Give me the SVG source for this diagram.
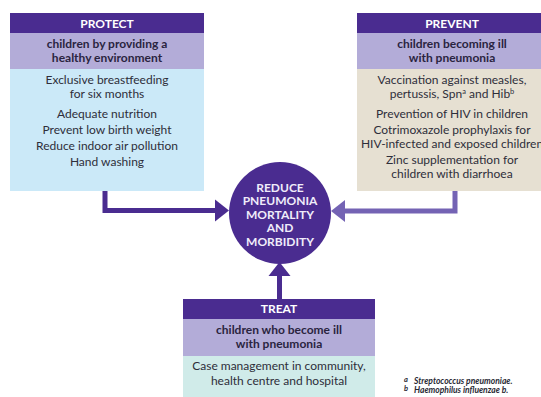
<svg xmlns="http://www.w3.org/2000/svg" width="541" height="397" viewBox="0 0 541 397">
<style>
text{font-family:Lato,"Open Sans","Liberation Sans",sans-serif;text-anchor:middle}
.hd{fill:#4a2c90}
.sub{fill:#b3acd8}
.ht{fill:#ffffff;font-size:12px;font-weight:bold}
.st{fill:#2a2440;font-size:12px;font-weight:bold}
.bt{fill:#2e2e3a;font-size:12px}
.ct{fill:#f0ecfa;font-size:12px;font-weight:bold}
.fn{fill:#2a2a35;font-size:8.5px;font-style:italic;font-weight:bold;text-anchor:start}
.sup{font-size:7.5px}
</style>
<rect width="541" height="397" fill="#ffffff"/>
<g id="connectors">
<path d="M105 191 V210.5 H216" fill="none" stroke="#4a2c90" stroke-width="5"/>
<polygon points="215,199.5 229,210.5 215,221.5" fill="#4a2c90"/>
<path d="M455 191 V211 H344" fill="none" stroke="#7463b4" stroke-width="5"/>
<polygon points="345,200 331,211 345,222" fill="#7463b4"/>
<path d="M279.5 299 V275" fill="none" stroke="#4a2c90" stroke-width="5"/>
<polygon points="268.5,276 279.5,262 290.5,276" fill="#4a2c90"/>
</g>
<g id="protect">
<rect x="10" y="13" width="194" height="20" class="hd"/>
<rect x="10" y="33" width="194" height="36" class="sub"/>
<rect x="10" y="69" width="194" height="122" fill="#cbe9f8"/>
<text x="107" y="27.5" class="ht">PROTECT</text>
<text x="107" y="48" class="st">children by providing a</text>
<text x="107" y="62" class="st">healthy environment</text>
<text x="107" y="84" class="bt">Exclusive breastfeeding</text>
<text x="107" y="98" class="bt">for six months</text>
<text x="107" y="118" class="bt">Adequate nutrition</text>
<text x="107" y="134" class="bt">Prevent low birth weight</text>
<text x="107" y="150" class="bt">Reduce indoor air pollution</text>
<text x="107" y="166" class="bt">Hand washing</text>
</g>
<g id="prevent">
<rect x="357" y="13" width="190" height="20" class="hd"/>
<rect x="357" y="33" width="190" height="36" class="sub"/>
<rect x="357" y="69" width="190" height="122" fill="#e6e0d2"/>
<text x="452" y="27.5" class="ht">PREVENT</text>
<text x="452" y="48" class="st">children becoming ill</text>
<text x="452" y="62" class="st">with pneumonia</text>
<text x="452" y="84" class="bt">Vaccination against measles,</text>
<text x="452" y="98" class="bt">pertussis, Spn<tspan class="sup" dy="-4">a</tspan><tspan dy="4"> and Hib</tspan><tspan class="sup" dy="-4">b</tspan></text>
<text x="452" y="118" class="bt">Prevention of HIV in children</text>
<text x="452" y="134" class="bt">Cotrimoxazole prophylaxis for</text>
<text x="452" y="148" class="bt">HIV-infected and exposed children</text>
<text x="452" y="164" class="bt">Zinc supplementation for</text>
<text x="452" y="178" class="bt">children with diarrhoea</text>
</g>
<g id="goal">
<circle cx="280" cy="213" r="51" fill="#4a2c90"/>
<text x="280" y="191.5" class="ct">REDUCE</text>
<text x="280" y="205" class="ct">PNEUMONIA</text>
<text x="280" y="218.5" class="ct">MORTALITY</text>
<text x="280" y="232" class="ct">AND</text>
<text x="280" y="245.5" class="ct">MORBIDITY</text>
</g>
<g id="treat">
<rect x="183" y="299" width="192" height="20" class="hd"/>
<rect x="183" y="319" width="192" height="37" class="sub"/>
<rect x="183" y="356" width="192" height="41" fill="#d0ebe9"/>
<text x="279" y="313" class="ht">TREAT</text>
<text x="279" y="334" class="st">children who become ill</text>
<text x="279" y="348" class="st">with pneumonia</text>
<text x="279" y="370" class="bt">Case management in community,</text>
<text x="279" y="385" class="bt">health centre and hospital</text>
</g>
<g id="footnotes">
<text x="404" y="384" class="fn"><tspan class="sup" dy="-2">a</tspan><tspan x="414" dy="2">Streptococcus pneumoniae.</tspan></text>
<text x="404" y="393" class="fn"><tspan class="sup" dy="-2">b</tspan><tspan x="414" dy="2">Haemophilus influenzae b.</tspan></text>
</g>
</svg>
